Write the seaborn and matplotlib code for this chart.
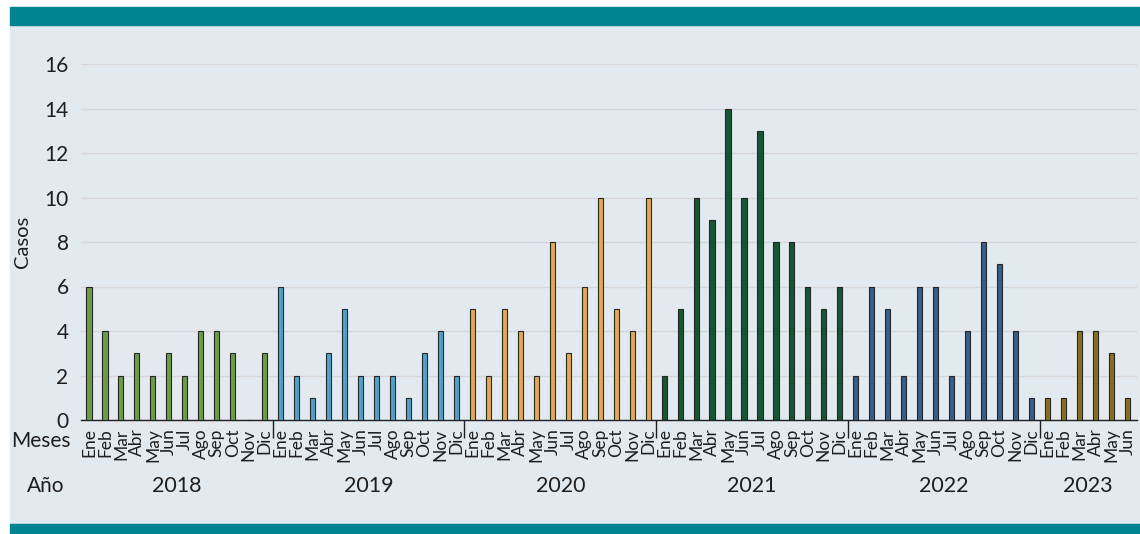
import numpy as np
import pandas as pd
import matplotlib
matplotlib.use("Agg")
import matplotlib.pyplot as plt
import matplotlib.transforms as mtransforms
from matplotlib.patches import Rectangle
import seaborn as sns

# monthly cases per year
MONTHS = ["Ene", "Feb", "Mar", "Abr", "May", "Jun",
          "Jul", "Ago", "Sep", "Oct", "Nov", "Dic"]
YEARS = [2018, 2019, 2020, 2021, 2022, 2023]
cases_2018 = [6, 4, 2, 3, 2, 3, 2, 4, 4, 3, 0, 3]
cases_2019 = [6, 2, 1, 3, 5, 2, 2, 2, 1, 3, 4, 2]
cases_2020 = [5, 2, 5, 4, 2, 8, 3, 6, 10, 5, 4, 10]
cases_2021 = [2, 5, 10, 9, 14, 10, 13, 8, 8, 6, 5, 6]
cases_2022 = [2, 6, 5, 2, 6, 6, 2, 4, 8, 7, 4, 1]
cases_2023 = [1, 1, 4, 4, 3, 1]
YEAR_COLORS = ["#6aab37", "#36ace3", "#fcb131", "#0a6231", "#265e98", "#9a7412"]

PANEL = "#e2e9ef"
TEAL = "#008392"
TEXT = "#1e1e1e"

series = [cases_2018, cases_2019, cases_2020, cases_2021, cases_2022, cases_2023]
rows = []
for year, vals in zip(YEARS, series):
    for m, v in zip(MONTHS, vals):
        rows.append({"anio": str(year), "mes": m, "casos": v})
df = pd.DataFrame(rows)
df["idx"] = np.arange(len(df))
palette = {str(y): c for y, c in zip(YEARS, YEAR_COLORS)}

sns.set_style("white")
plt.rcParams["font.family"] = ["Lato", "DejaVu Sans"]

W, H = 1140, 534
fig = plt.figure(figsize=(W / 100, H / 100), dpi=100, facecolor="white")

# framed panel with teal bands
fig.patches.append(Rectangle((10 / W, 10 / H), 1 - 10 / W, (524 - 25) / H,
                             transform=fig.transFigure, color=PANEL, zorder=-10))
fig.patches.append(Rectangle((10 / W, (H - 25) / H), 1 - 10 / W, 18 / H,
                             transform=fig.transFigure, color=TEAL, zorder=-10))
fig.patches.append(Rectangle((10 / W, 0), 1 - 10 / W, 10 / H,
                             transform=fig.transFigure, color=TEAL, zorder=-10))

ax = fig.add_axes([81 / W, (H - 420) / H, (1137 - 81) / W, (420 - 64) / H])
ax.set_facecolor("none")

sns.barplot(data=df, x="idx", y="casos", hue="anio", palette=palette,
            dodge=False, width=0.32, edgecolor="#262626", linewidth=0.8,
            legend=False, ax=ax, zorder=3)

n = len(df)
ax.set_xlim(-0.5, n - 0.4)
ax.set_ylim(0, 16)
ax.set_yticks(np.arange(0, 17, 2))
ax.yaxis.grid(True, color="#d6d6d6", linewidth=1)
ax.set_axisbelow(True)
for s in ["top", "right", "left"]:
    ax.spines[s].set_visible(False)
ax.spines["bottom"].set_color(TEXT)
ax.spines["bottom"].set_linewidth(1)

ax.tick_params(axis="y", length=0, pad=9, labelsize=15, labelcolor=TEXT)
ax.set_xticks(df["idx"])
ax.set_xticklabels(df["mes"], rotation=90, fontsize=12.5, color=TEXT)
ax.tick_params(axis="x", which="major", length=0, pad=6)
ax.set_xticks(np.arange(-0.5, n, 1.0), minor=True)
ax.tick_params(axis="x", which="minor", length=4, width=1, color=TEXT)
ax.set_xlabel("")
ax.set_ylabel("Casos", fontsize=14.5, color=TEXT)
ax.yaxis.set_label_coords((31 - 81) / (1137 - 81), 0.5)

# year separators and year labels
sizes = df.groupby("anio", sort=False).size().to_numpy()
ends = np.cumsum(sizes)
starts = ends - sizes
ax.vlines(ends[:-1] - 0.5, 0, -18 / (420 - 64), color=TEXT, linewidth=1,
          transform=mtransforms.blended_transform_factory(ax.transData, ax.transAxes),
          clip_on=False)
blend = mtransforms.blended_transform_factory(ax.transData, fig.transFigure)
for year, s0, e0 in zip(YEARS, starts, ends):
    ax.text((s0 + e0 - 1) / 2, (H - 486) / H, str(year), transform=blend,
            ha="center", va="center", fontsize=15.5, color=TEXT)

fig.text(71 / W, (H - 441) / H, "Meses", ha="right", va="center",
         fontsize=15, color=TEXT)
fig.text(46 / W, (H - 486) / H, "Año", ha="center", va="center",
         fontsize=15, color=TEXT)

fig.savefig("out.png", dpi=100, facecolor="white")
